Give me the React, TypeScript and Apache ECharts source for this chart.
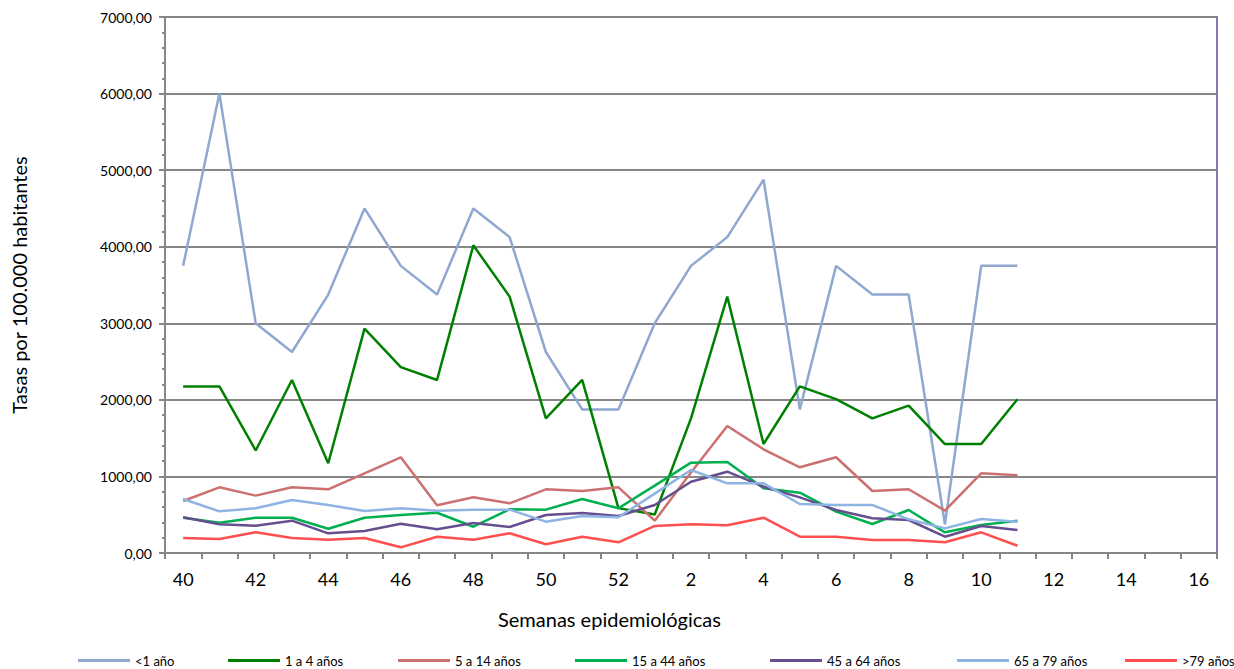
import React, { useEffect, useRef } from "react";
import * as echarts from "echarts";

const weeks: string[] = [
  "40", "41", "42", "43", "44", "45", "46", "47", "48", "49", "50", "51", "52",
  "1", "2", "3", "4", "5", "6", "7", "8", "9", "10", "11", "12", "13", "14", "15", "16",
];

const seriesNames: string[] = [
  "<1 año", "1 a 4 años", "5 a 14 años", "15 a 44 años", "45 a 64 años", "65 a 79 años", ">79 años",
];

const menos1: number[] = [3750, 6000, 3000, 2625, 3375, 4500, 3750, 3375, 4500, 4125, 2625, 1875, 1875, 3000, 3750, 4125, 4875, 1875, 3750, 3375, 3375, 375, 3750, 3750];
const de1a4: number[] = [2176, 2176, 1339, 2260, 1172, 2930, 2427, 2260, 4018, 3348, 1758, 2260, 586, 502, 1758, 3348, 1423, 2176, 2009, 1758, 1925, 1423, 1423, 2009];
const de5a14: number[] = [679, 858, 749, 858, 832, 1041, 1250, 623, 727, 649, 832, 810, 858, 422, 1050, 1658, 1354, 1119, 1250, 810, 832, 553, 1041, 1015];
const de15a44: number[] = [461, 396, 461, 461, 317, 461, 496, 526, 343, 571, 566, 705, 584, 880, 1180, 1188, 845, 788, 540, 379, 562, 270, 366, 422];
const de45a64: number[] = [466, 375, 357, 422, 257, 287, 383, 310, 392, 340, 496, 522, 483, 627, 931, 1062, 866, 727, 562, 453, 431, 213, 353, 300];
const de65a79: number[] = [705, 544, 584, 692, 627, 548, 584, 553, 566, 566, 409, 483, 466, 775, 1084, 910, 910, 640, 627, 627, 440, 322, 444, 409];
const mas79: number[] = [196, 183, 270, 196, 174, 196, 74, 213, 174, 257, 114, 213, 140, 353, 375, 362, 461, 213, 213, 170, 170, 140, 270, 95];

const seriesData: number[][] = [menos1, de1a4, de5a14, de15a44, de45a64, de65a79, mas79];
const colors: string[] = ["#8EA8D0", "#008000", "#CC7070", "#00B050", "#654F8F", "#8DB4E2", "#FF4F4F"];
const legendLeft: number[] = [78, 228, 398, 575, 770, 957, 1125];

const FONT = "Lato, 'Open Sans', sans-serif";

export default function App() {
  const ref = useRef<HTMLDivElement>(null);
  useEffect(() => {
    if (!ref.current) return;
    const chart = echarts.init(ref.current, null, { renderer: "svg" });
    chart.setOption({
      animation: false,
      backgroundColor: "#ffffff",
      grid: {
        left: 165,
        right: 17,
        top: 17,
        bottom: 116,
        containLabel: false,
        outerBoundsMode: "none",
        show: true,
        borderColor: "#8A73B0",
        borderWidth: 2,
      },
      legend: seriesNames.map((n, i) => ({
        data: [n],
        left: legendLeft[i],
        top: 654,
        icon: "rect",
        itemWidth: 52,
        itemHeight: 3,
        itemGap: 4,
        padding: 0,
        selectedMode: false,
        textStyle: { fontFamily: FONT, fontSize: 13, color: "#000" },
      })),
      xAxis: {
        type: "category",
        data: weeks,
        boundaryGap: true,
        axisLine: { lineStyle: { color: "#868686", width: 2 } },
        axisTick: { show: true, interval: 0, length: 6, lineStyle: { color: "#868686", width: 2 } },
        axisLabel: { interval: 1, fontFamily: FONT, fontSize: 18, color: "#000", margin: 17 },
        splitLine: { show: false },
      },
      yAxis: {
        type: "value",
        min: 0,
        max: 7000,
        interval: 1000,
        axisLine: { show: true, lineStyle: { color: "#868686", width: 2 } },
        axisTick: { show: true, length: 6, lineStyle: { color: "#868686", width: 2 } },
        minorTick: { show: true, splitNumber: 5, length: 3, lineStyle: { color: "#868686", width: 2 } },
        axisLabel: {
          fontFamily: FONT,
          fontSize: 14,
          color: "#000",
          margin: 13,
          formatter: (v: number) => v.toFixed(2).replace(".", ","),
        },
        splitLine: { show: true, lineStyle: { color: "#868686", width: 2 } },
        name: "Tasas por 100.000 habitantes",
        nameLocation: "middle",
        nameGap: 136,
        nameTextStyle: { fontFamily: FONT, fontSize: 20, color: "#000" },
      },
      graphic: [
        {
          type: "text",
          left: 498,
          top: 609,
          style: { text: "Semanas epidemiológicas", fontFamily: FONT, fontSize: 20, fill: "#000" },
        },
      ],
      series: seriesNames.map((n, i) => ({
        name: n,
        type: "line",
        data: seriesData[i],
        symbol: "none",
        color: colors[i],
        lineStyle: { width: 2.5, color: colors[i] },
      })),
    });
    return () => chart.dispose();
  }, []);
  return <div ref={ref} style={{ width: 1234, height: 669, position: "absolute", left: 0, top: 0 }} />;
}
